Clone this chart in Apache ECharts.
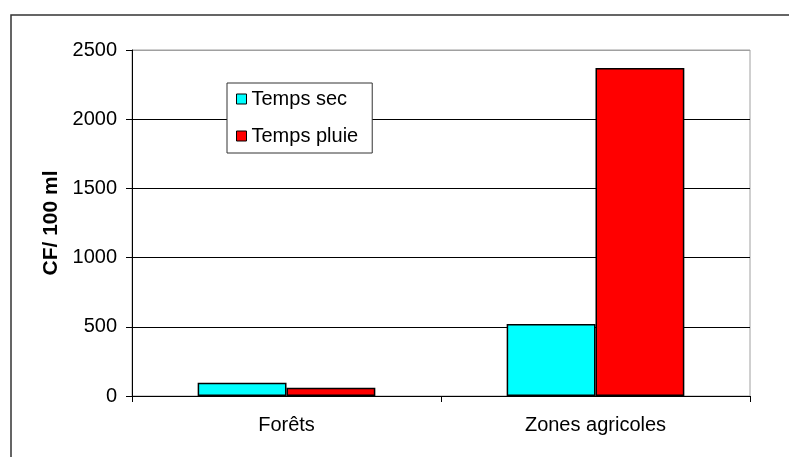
<!DOCTYPE html>
<html>
<head>
<meta charset="utf-8">
<script src="https://cdn.jsdelivr.net/npm/echarts@6/dist/echarts.min.js"></script>
<style>html,body{margin:0;padding:0;background:#fff}#c{width:789px;height:457px}</style>
</head>
<body>
<div id="c"></div>
<script>
var categories = ['Forêts', 'Zones agricoles'];
var seriesNames = ['Temps sec', 'Temps pluie'];
var tempsSec = [95, 520];
var tempsPluie = [60, 2370];
var yTicks = [0, 500, 1000, 1500, 2000, 2500];

var FONT = 'Liberation Sans, Arial, sans-serif';
var chart = echarts.init(document.getElementById('c'), null, {renderer: 'canvas'});
chart.setOption({
  animation: false,
  backgroundColor: '#fff',
  graphic: [{
    type: 'rect', z: 100,
    shape: {x: 11, y: 15, width: 800, height: 480},
    style: {fill: 'none', stroke: '#333', lineWidth: 1.5}
  }],
  grid: {left: 132, right: 39, top: 50, bottom: 61, show: true, borderColor: '#a0a0a0', borderWidth: 1, backgroundColor: 'transparent'},
  legend: {
    orient: 'vertical', left: 227, top: 83,
    data: seriesNames,
    itemWidth: 10, itemHeight: 10, itemGap: 17, itemTextGap: 11,
    padding: [6, 14, 7, 9],
    backgroundColor: '#fff', borderColor: '#333', borderWidth: 1,
    icon: 'rect',
    textStyle: {fontFamily: FONT, fontSize: 20, color: '#000', lineHeight: 20},
    itemStyle: {borderColor: '#000', borderWidth: 1}
  },
  xAxis: {
    type: 'category', data: categories,
    axisLine: {lineStyle: {color: '#000', width: 1}},
    axisTick: {show: true, length: 6, lineStyle: {color: '#000'}},
    axisLabel: {fontFamily: FONT, fontSize: 20, color: '#000', margin: 19}
  },
  yAxis: {
    type: 'value', min: yTicks[0], max: yTicks[yTicks.length - 1], interval: yTicks[1] - yTicks[0],
    name: 'CF/ 100 ml', nameLocation: 'middle', nameGap: 64,
    nameTextStyle: {fontFamily: FONT, fontSize: 21, fontWeight: 'bold', color: '#000'},
    axisLine: {show: true, lineStyle: {color: '#000', width: 1}},
    axisTick: {show: true, length: 6, lineStyle: {color: '#000'}},
    axisLabel: {fontFamily: FONT, fontSize: 20, color: '#000', margin: 15, formatter: function (v) { return String(v); }},
    splitLine: {show: true, lineStyle: {color: ['#000', '#000', '#000', '#000', '#000', '#a0a0a0'], width: 1}}
  },
  series: [
    {name: seriesNames[0], type: 'bar', data: tempsSec, barGap: '0%', barCategoryGap: '42.5%',
     itemStyle: {color: '#00ffff', borderColor: '#000', borderWidth: 1.5}},
    {name: seriesNames[1], type: 'bar', data: tempsPluie, barGap: '0%', barCategoryGap: '42.5%',
     itemStyle: {color: '#ff0000', borderColor: '#000', borderWidth: 1.5}}
  ]
});
</script>
</body>
</html>
